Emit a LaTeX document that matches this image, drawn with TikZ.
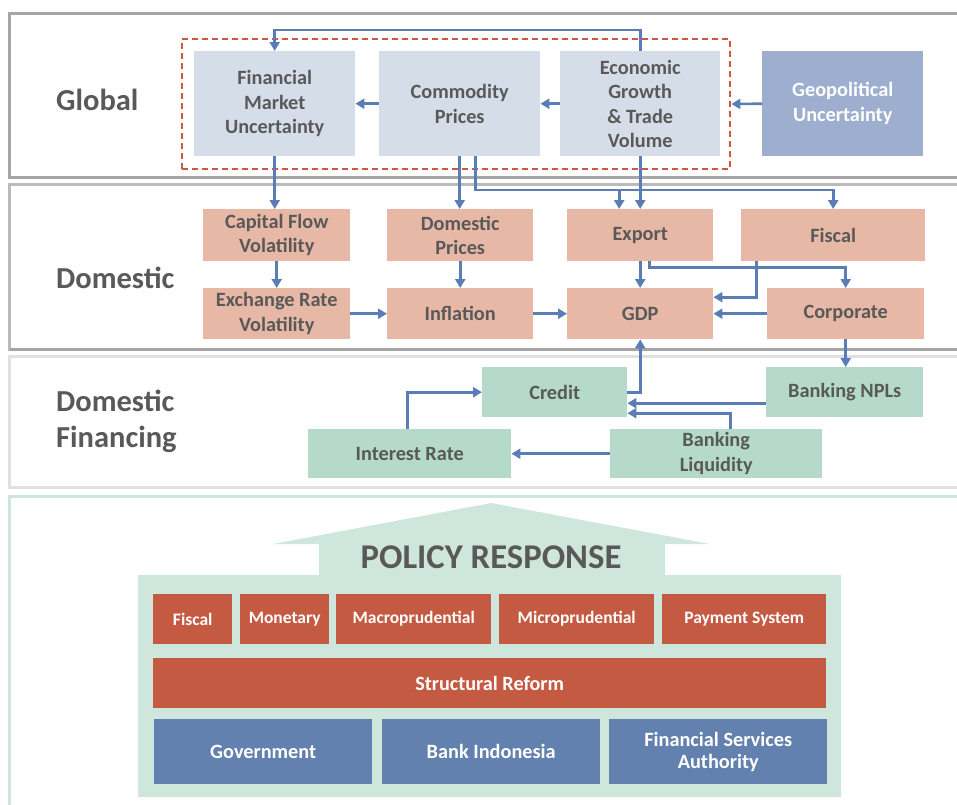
\documentclass[tikz,border=0pt]{standalone}
\usepackage{fontspec}
\setmainfont{Carlito}
\usetikzlibrary{arrows.meta,fit}
\definecolor{txt}{HTML}{595959}
\definecolor{lblue}{HTML}{D5DDE9}
\definecolor{mblue}{HTML}{9DAECE}
\definecolor{salmon}{HTML}{E8B8A6}
\definecolor{mint}{HTML}{B5DACB}
\definecolor{paleg}{HTML}{CFE6DC}
\definecolor{redb}{HTML}{C55A42}
\definecolor{blueb}{HTML}{6381AE}
\definecolor{arrc}{HTML}{5B7DB5}
\definecolor{dashred}{HTML}{D0573C}
\newcommand\bx[7]{\node[#6, anchor=north west, minimum width={#4pt-#2pt}, minimum height={#5pt-#3pt}] (#1) at (#2,#3) {#7};}
\begin{document}
\begin{tikzpicture}[x=1pt,y=-1pt,
  basebox/.style={inner sep=0pt, align=center, font=\fontsize{20.3}{24.5}\selectfont\bfseries, text=txt},
  gbox/.style={basebox, fill=lblue},
  geobox/.style={basebox, fill=mblue, text=white},
  dbox/.style={basebox, fill=salmon},
  fbox/.style={basebox, fill=mint},
  rbox/.style={basebox, fill=redb, text=white, font=\fontsize{17.5}{20}\selectfont\bfseries},
  sbox/.style={basebox, fill=redb, text=white, font=\fontsize{20.2}{24}\selectfont\bfseries},
  bbox/.style={basebox, fill=blueb, text=white, font=\fontsize{20.3}{22}\selectfont\bfseries},
  lbl/.style={font=\fontsize{30.5}{36}\selectfont\bfseries, text=txt, anchor=west, align=left, inner sep=0pt},
  arr/.style={draw=arrc, line width=2.6pt, -{Triangle[length=9pt,width=10pt]}},
  ln/.style={draw=arrc, line width=2.6pt}
]
\useasboundingbox (0,0) rectangle (957,804);
% panels
\draw[draw=black!35, line width=3pt] (9.5,13) rectangle (975,177.5);
\draw[draw=black!27, line width=3pt] (9.5,184) rectangle (975,349.5);
\draw[draw=black!35, line width=3pt] (9.5,349.5) -- (975,349.5);
\draw[draw=black!12, line width=3pt] (9.5,356) rectangle (975,487);
\draw[draw=paleg, line width=3pt] (9.5,496) rectangle (975,830);
% labels
\node[lbl] (lglobal) at (56,100) {Global};
\node[lbl] (ldom) at (56,278) {Domestic};
\node[lbl] (lfin) at (56,421) {Domestic\\Financing};
% global row
\node[draw=dashred, dashed, dash pattern=on 6pt off 4pt, line width=2.8pt, inner sep=0pt, fit={(182,39) (730,169)}] (dash) {};
\bx{fin}{194}{51}{355}{156}{gbox}{Financial\\Market\\Uncertainty}
\bx{comm}{379}{51}{540}{156}{gbox}{Commodity\\Prices}
\bx{econ}{560}{51}{720}{156}{gbox}{Economic\\Growth\\\& Trade\\Volume}
\bx{geo}{762}{51}{923}{156}{geobox}{Geopolitical\\Uncertainty}
% domestic row
\bx{cap}{203}{209}{350}{261}{dbox}{Capital Flow\\Volatility}
\bx{dp}{387}{209}{533}{261}{dbox}{Domestic\\Prices}
\bx{export}{567}{209}{713}{261}{dbox}{Export}
\bx{fiscal}{741}{209}{925}{261}{dbox}{Fiscal}
\bx{exr}{203}{288}{350}{339}{dbox}{Exchange Rate\\Volatility}
\bx{infl}{387}{288}{533}{339}{dbox}{Inflation}
\bx{gdp}{567}{288}{713}{339}{dbox}{GDP}
\bx{corp}{767}{288}{924}{339}{dbox}{Corporate}
% financing row
\bx{credit}{482}{367}{627}{417}{fbox}{Credit}
\bx{npl}{766}{367}{923}{417}{fbox}{Banking NPLs}
\bx{ir}{308}{429}{511}{478}{fbox}{Interest Rate}
\bx{liq}{610}{429}{822}{478}{fbox}{Banking\\Liquidity}
% connectors global
\draw[arr] (econ.north) -- ++(0,-21) -| (fin.north);
\draw[arr] (comm.west) -- (fin.east);
\draw[arr] (econ.west) -- (comm.east);
\draw[arr] (geo.west) -- (dash.east);
\draw[arr] (fin.south) -- (fin.south |- cap.north);
\draw[arr] (comm.south) -- (comm.south |- dp.north);
\draw[arr] ([xshift=16pt]comm.south) |- ([yshift=19pt]fiscal.north) -- (fiscal.north);
\draw[arr] ([xshift=-21pt,yshift=19pt]export.north) -- ([xshift=-21pt]export.north);
\draw[arr] (econ.south) -- (econ.south |- export.north);
% connectors domestic
\draw[arr] (export.south) -- (gdp.north);
\draw[arr] ([xshift=9pt]export.south) -- ++(0,6) -| (corp.north);
\draw[arr] ([xshift=-77pt]fiscal.south) |- ([yshift=16.5pt]gdp.east);
\draw[arr] (corp.west) -- (gdp.east);
\draw[arr] (cap.south) -- (exr.north);
\draw[arr] (dp.south) -- (infl.north);
\draw[arr] (exr.east) -- (infl.west);
\draw[arr] (infl.east) -- (gdp.west);
% connectors financing
\draw[arr] (corp.south) -- (corp.south |- npl.north);
\draw[arr] (credit.east) -| (gdp.south);
\draw[arr] ([yshift=-11pt]npl.west) -- ([yshift=-11pt]credit.east);
\draw[arr] ([xshift=14pt]liq.north) |- ([yshift=-21pt]credit.east);
\draw[arr] (liq.west) -- (ir.east);
\draw[arr] ([xshift=-2.5pt]ir.north) |- (credit.west);
% policy response
\fill[paleg] (138,797) -- (138,575) -- (319,575) -- (319,544) -- (273,544) -- (491,503) -- (710,544) -- (665,544) -- (665,575) -- (841,575) -- (841,797) -- cycle;
\node[font=\fontsize{34.7}{38}\selectfont\bfseries, text=txt, inner sep=0pt] (policy) at (491,557) {POLICY RESPONSE};
\bx{pfiscal}{153}{594}{232}{644}{rbox}{Fiscal}
\bx{pmon}{240}{594}{329}{644}{rbox}{Monetary}
\bx{pmacro}{336}{594}{491}{644}{rbox}{Macroprudential}
\bx{pmicro}{499}{594}{654}{644}{rbox}{Microprudential}
\bx{ppay}{662}{594}{826}{644}{rbox}{Payment System}
\bx{pstruct}{153}{658}{826}{708}{sbox}{Structural Reform}
\bx{pgov}{154}{719}{372}{784}{bbox}{Government}
\bx{pbi}{382}{719}{600}{784}{bbox}{Bank Indonesia}
\bx{pfsa}{609}{719}{827}{784}{bbox}{Financial Services\\Authority}
\end{tikzpicture}
\end{document}
